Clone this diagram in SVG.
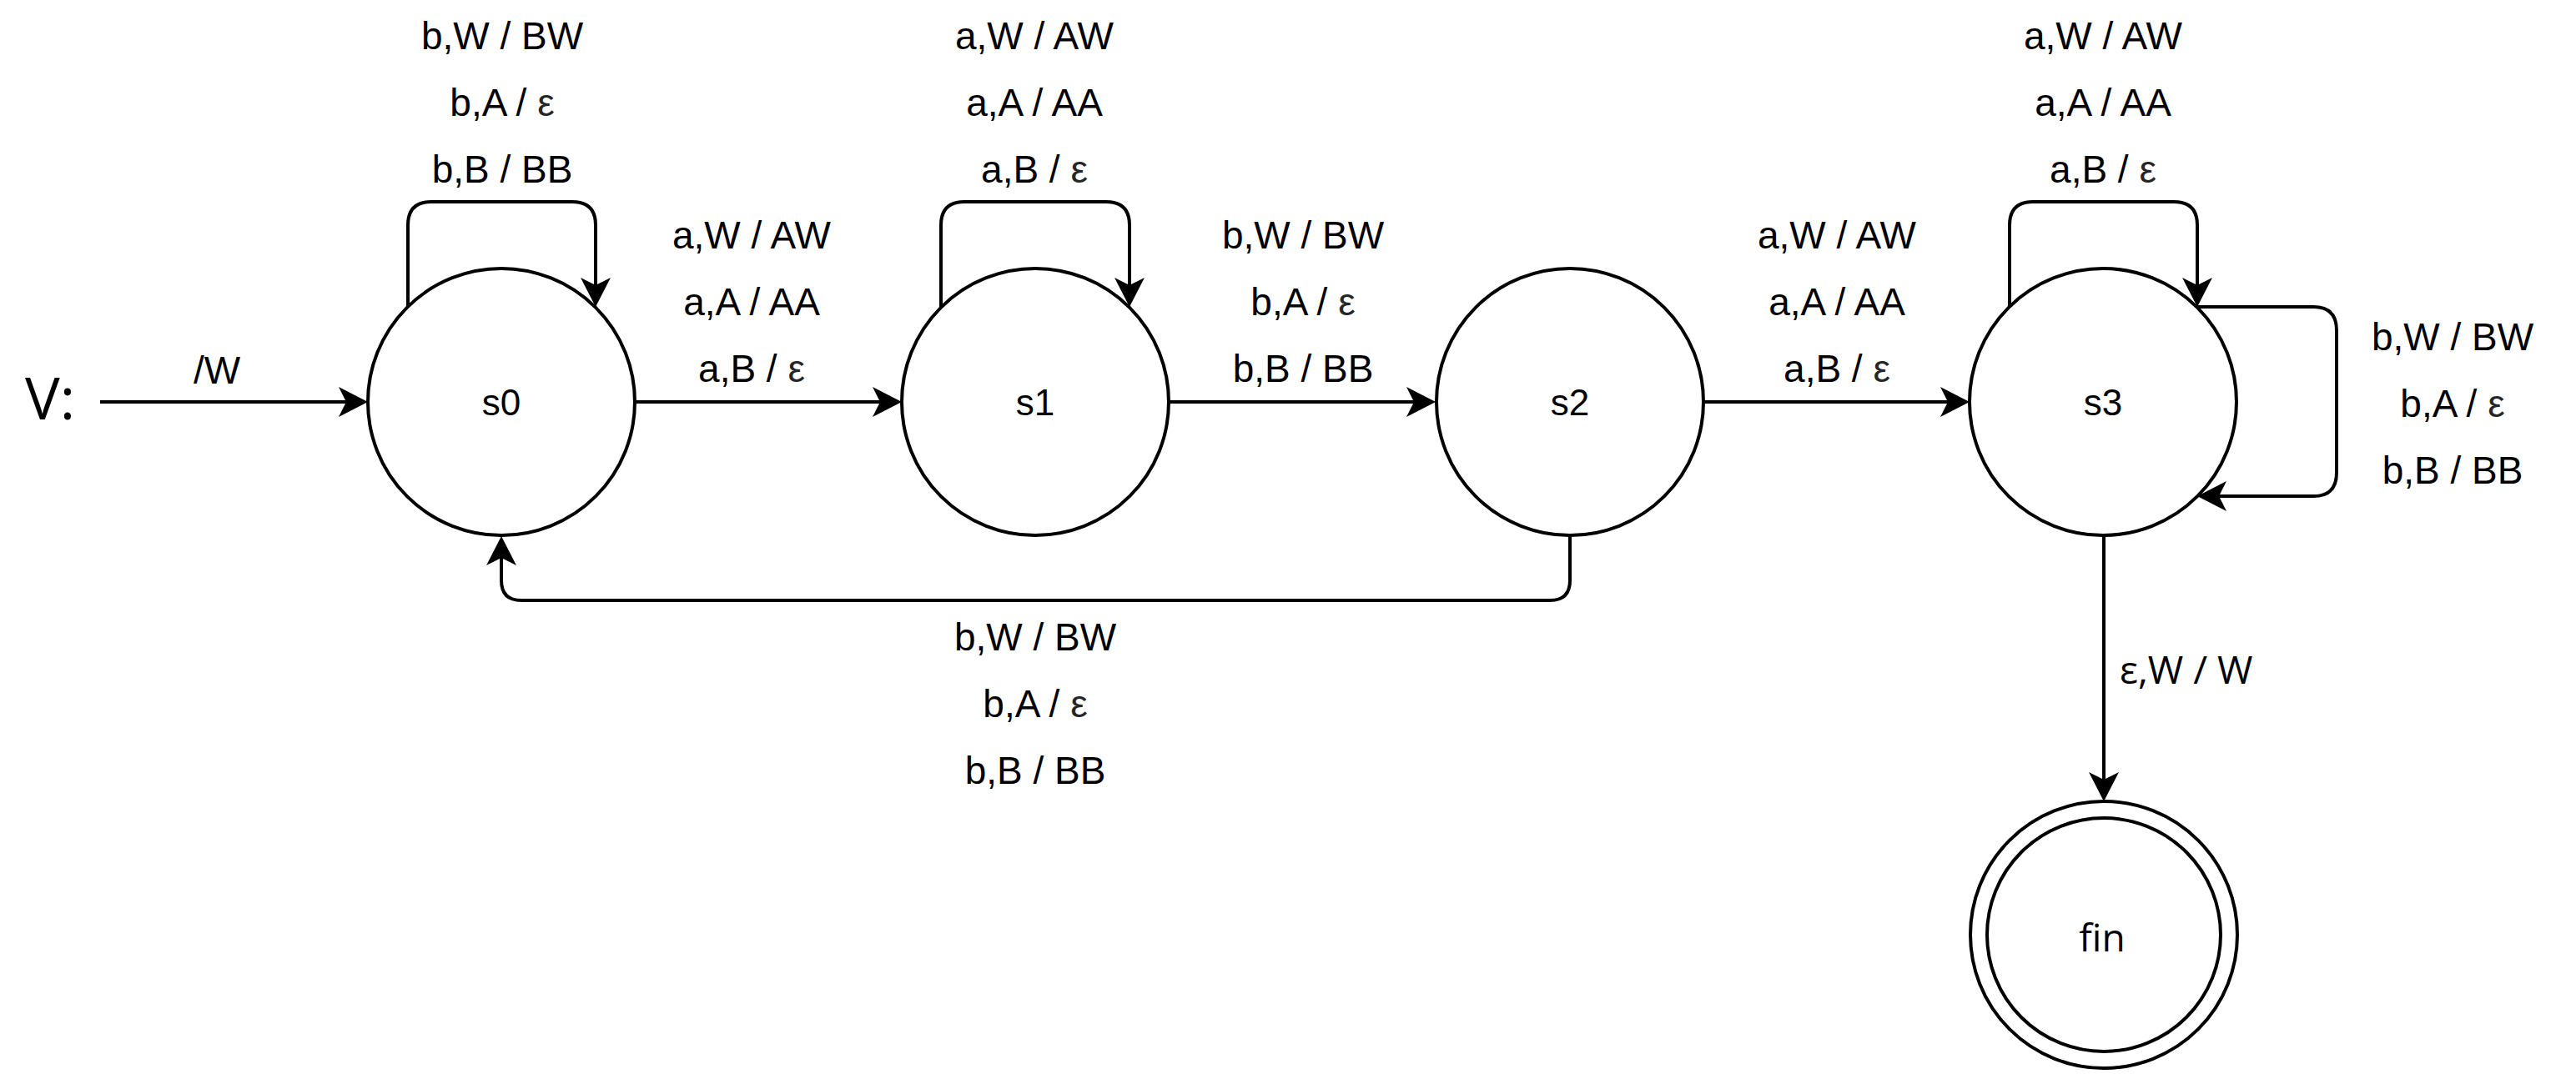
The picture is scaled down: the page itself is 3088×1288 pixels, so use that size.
<svg xmlns="http://www.w3.org/2000/svg" width="3088" height="1288" viewBox="0 0 3088 1288">
  <style>
    .state { fill: #ffffff; stroke: #000000; stroke-width: 4; }
    .edge { fill: none; stroke: #000000; stroke-width: 4; marker-end: url(#arrow); }
    .lbl { font-family: "Liberation Sans", Arial, sans-serif; font-size: 46px; fill: #000000; text-anchor: middle; }
    .node-lbl { font-family: "Liberation Sans", Arial, sans-serif; font-size: 44px; fill: #000000; text-anchor: middle; }
    .eps { fill: #262626; }
    .alt { font-family: "Open Sans", "Liberation Sans", sans-serif; }
  </style>
  <defs>
    <marker id="arrow" markerUnits="userSpaceOnUse" markerWidth="36" markerHeight="36" viewBox="0 0 36 36" refX="9" refY="18" orient="auto" overflow="visible">
      <path d="M35,18 L0,0 L9,18 L0,36 Z" fill="#000000"/>
    </marker>
  </defs>
  <rect x="0" y="0" width="3088" height="1288" fill="#ffffff"/>

  <g id="connectors">
    <g id="edge-start">
      <path class="edge" d="M120,482 L415,482"/>
      <text class="lbl" x="260" y="460">/W</text>
    </g>
    <g id="edge-s0-loop">
      <path class="edge" d="M489,368 V270 Q489,242 517,242 H686 Q714,242 714,270 V342"/>
      <text class="lbl" x="602" y="59">b,W / BW</text>
      <text class="lbl" x="602" y="139">b,A / <tspan class="eps">ε</tspan></text>
      <text class="lbl" x="602" y="219">b,B / BB</text>
    </g>
    <g id="edge-s0-s1">
      <path class="edge" d="M761,482 H1055"/>
      <text class="lbl" x="901" y="298">a,W / AW</text>
      <text class="lbl" x="901" y="378">a,A / AA</text>
      <text class="lbl" x="901" y="458">a,B / <tspan class="eps">ε</tspan></text>
    </g>
    <g id="edge-s1-loop">
      <path class="edge" d="M1128,368 V270 Q1128,242 1156,242 H1326 Q1354,242 1354,270 V342"/>
      <text class="lbl" x="1240" y="59">a,W / AW</text>
      <text class="lbl" x="1240" y="139">a,A / AA</text>
      <text class="lbl" x="1240" y="219">a,B / <tspan class="eps">ε</tspan></text>
    </g>
    <g id="edge-s1-s2">
      <path class="edge" d="M1401,482 H1695"/>
      <text class="lbl" x="1562" y="298">b,W / BW</text>
      <text class="lbl" x="1562" y="378">b,A / <tspan class="eps">ε</tspan></text>
      <text class="lbl" x="1562" y="458">b,B / BB</text>
    </g>
    <g id="edge-s2-s0">
      <path class="edge" d="M1882,643 V696 Q1882,720 1858,720 H625 Q601,720 601,696 V669"/>
      <text class="lbl" x="1241" y="780">b,W / BW</text>
      <text class="lbl" x="1241" y="860">b,A / <tspan class="eps">ε</tspan></text>
      <text class="lbl" x="1241" y="940">b,B / BB</text>
    </g>
    <g id="edge-s2-s3">
      <path class="edge" d="M2041,482 H2335"/>
      <text class="lbl" x="2202" y="298">a,W / AW</text>
      <text class="lbl" x="2202" y="378">a,A / AA</text>
      <text class="lbl" x="2202" y="458">a,B / <tspan class="eps">ε</tspan></text>
    </g>
    <g id="edge-s3-loop-top">
      <path class="edge" d="M2409,368 V270 Q2409,242 2437,242 H2606 Q2634,242 2634,270 V342"/>
      <text class="lbl" x="2521" y="59">a,W / AW</text>
      <text class="lbl" x="2521" y="139">a,A / AA</text>
      <text class="lbl" x="2521" y="219">a,B / <tspan class="eps">ε</tspan></text>
    </g>
    <g id="edge-s3-loop-right">
      <path class="edge" d="M2634,368 H2773 Q2801,368 2801,396 V567 Q2801,595 2773,595 H2660"/>
      <text class="lbl" x="2940" y="420">b,W / BW</text>
      <text class="lbl" x="2940" y="500">b,A / <tspan class="eps">ε</tspan></text>
      <text class="lbl" x="2940" y="580">b,B / BB</text>
    </g>
    <g id="edge-s3-fin">
      <path class="edge" d="M2522,643 V935"/>
      <text class="lbl alt" x="2541" y="820" text-anchor="start" style="text-anchor:start" fill="#262626">ε,W / W</text>
    </g>
  </g>

  <text id="start-label" class="alt" x="30" y="503" font-size="70" fill="#000000">V:</text>

  <g id="s0">
    <circle class="state" cx="601" cy="482" r="160"/>
    <text class="node-lbl" x="601" y="498">s0</text>
  </g>
  <g id="s1">
    <circle class="state" cx="1241" cy="482" r="160"/>
    <text class="node-lbl" x="1241" y="498">s1</text>
  </g>
  <g id="s2">
    <circle class="state" cx="1882" cy="482" r="160"/>
    <text class="node-lbl" x="1882" y="498">s2</text>
  </g>
  <g id="s3">
    <circle class="state" cx="2521" cy="482" r="160"/>
    <text class="node-lbl" x="2521" y="498">s3</text>
  </g>
  <g id="fin">
    <circle class="state" cx="2522" cy="1121" r="160"/>
    <circle class="state" cx="2522" cy="1121" r="140"/>
    <text class="node-lbl alt" x="2520" y="1141" font-size="46" style="font-size:46px">fin</text>
  </g>
</svg>
